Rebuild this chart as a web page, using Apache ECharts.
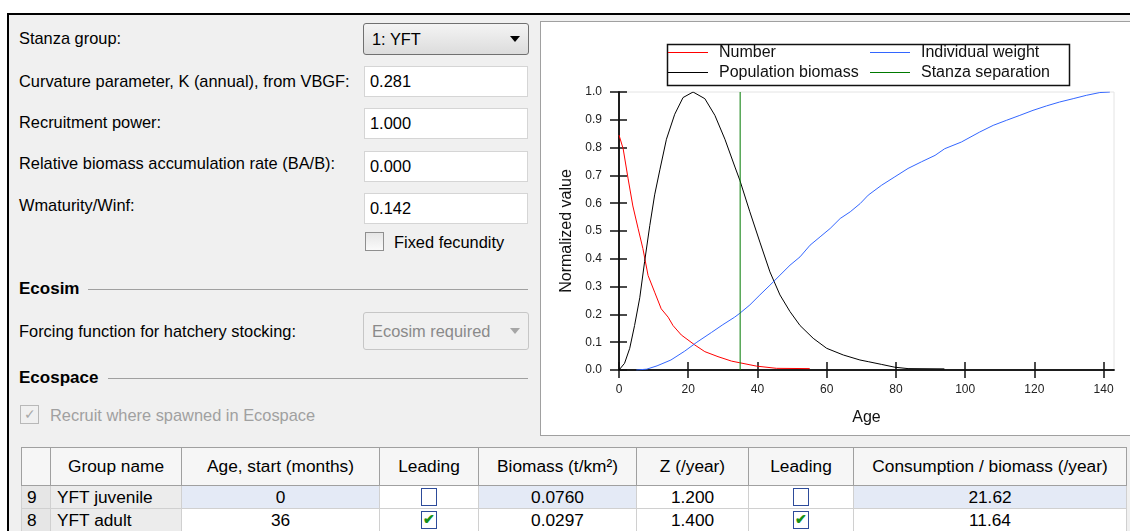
<!DOCTYPE html>
<html>
<head>
<meta charset="utf-8">
<script src="https://cdn.jsdelivr.net/npm/echarts@6/dist/echarts.min.js"></script>
<style>
  html,body{margin:0;padding:0;width:1130px;height:531px;overflow:hidden;background:#fff;
    font-family:"Liberation Sans",Arial,sans-serif;font-size:16.4px;color:#000;}
  .abs{position:absolute;}
  #panel{position:absolute;left:7px;top:13px;width:1123px;height:518px;background:#f0f0f0;
    border-left:2px solid #000;border-top:2px solid #000;box-sizing:border-box;}
  .lbl{position:absolute;left:19px;white-space:nowrap;line-height:20px;}
  .tb{position:absolute;left:364px;width:164px;height:31px;background:#fff;border:1px solid #d5d5d5;
    box-sizing:border-box;padding-left:5px;line-height:29px;}
  .dd{position:absolute;left:363px;width:166px;box-sizing:border-box;border-radius:3px;padding-left:8px;}
  .arrow{position:absolute;width:0;height:0;border-left:5px solid transparent;border-right:5px solid transparent;}
  .sec{position:absolute;height:1px;background:#a0a0a0;}
  .bold{font-weight:bold;font-size:17px;}
  table{position:absolute;left:21px;top:447px;border-collapse:collapse;table-layout:fixed;font-size:17.3px;}
  td,th{padding:0;font-weight:normal;white-space:nowrap;overflow:hidden;}
  th{height:37px;background:#f6f6f6;border:1px solid #a0a0a0;text-align:center;}
  td{height:22px;border:1px solid #d0d0d0;text-align:center;}
  td.rh{background:#e6e6e6;text-align:left;padding-left:5px;}
  td.gn{background:#ececec;text-align:left;padding-left:6px;}
  td.bl{background:#e4eaf6;}
  td.wh{background:#fff;}
  .cb{display:inline-block;width:16px;height:18px;border:1.5px solid #2d4b9a;background:#fff;
    vertical-align:middle;position:relative;box-sizing:border-box;margin-top:-2px;}
  .cb .ck{position:absolute;left:1px;top:-1px;color:#189018;font-size:14px;line-height:16px;font-weight:bold;}
</style>
</head>
<body>
<div id="panel"></div>

<!-- form -->
<div class="lbl" style="top:28px;">Stanza group:</div>
<div class="dd" style="top:23px;height:32px;border:1px solid #707070;background:linear-gradient(#f4f4f4,#dcdcdc);line-height:30px;">1: YFT</div>
<div class="arrow" style="left:510px;top:36px;border-top:6px solid #000;"></div>

<div class="lbl" style="top:71px;">Curvature parameter, K (annual), from VBGF:</div>
<div class="tb" style="top:66px;">0.281</div>
<div class="lbl" style="top:112px;">Recruitment power:</div>
<div class="tb" style="top:108px;">1.000</div>
<div class="lbl" style="top:153px;">Relative biomass accumulation rate (BA/B):</div>
<div class="tb" style="top:151px;">0.000</div>
<div class="lbl" style="top:195px;">Wmaturity/Winf:</div>
<div class="tb" style="top:193px;">0.142</div>

<div class="abs" style="left:365px;top:232px;width:19px;height:19px;border:1px solid #8f8f8f;box-sizing:border-box;background:linear-gradient(#e6e6e6,#fafafa);"></div>
<div class="abs" style="left:394px;top:232px;line-height:20px;">Fixed fecundity</div>

<div class="lbl bold" style="top:279px;">Ecosim</div>
<div class="sec" style="left:88px;top:289px;width:440px;"></div>
<div class="lbl" style="top:321px;">Forcing function for hatchery stocking:</div>
<div class="dd" style="top:312px;height:38px;border:1px solid #c6c6c6;background:#f0f0f0;line-height:36px;color:#8a8a8a;">Ecosim required</div>
<div class="arrow" style="left:510px;top:328px;border-top:6px solid #a6a6a6;"></div>

<div class="lbl bold" style="top:368px;">Ecospace</div>
<div class="sec" style="left:108px;top:378px;width:420px;"></div>
<div class="abs" style="left:20px;top:405px;width:19px;height:19px;border:1px solid #b8b8b8;box-sizing:border-box;color:#a8a8a8;font-size:14px;line-height:17px;text-align:center;">&#10003;</div>
<div class="abs" style="left:50px;top:405px;line-height:20px;color:#a0a0a0;">Recruit where spawned in Ecospace</div>

<!-- chart frame -->
<div class="abs" style="left:540px;top:21px;width:591px;height:415px;border:1px solid #a0a0a0;border-right:none;box-sizing:border-box;background:#fff;">
  <div id="chart" style="position:absolute;left:0;top:0;width:590px;height:413px;"></div>
</div>

<!-- table -->
<table>
  <colgroup>
    <col style="width:29px"><col style="width:131px"><col style="width:198px"><col style="width:99px">
    <col style="width:158px"><col style="width:112px"><col style="width:105px"><col style="width:273px">
  </colgroup>
  <tr><th></th><th>Group name</th><th>Age, start (months)</th><th>Leading</th><th>Biomass (t/km²)</th><th>Z (/year)</th><th>Leading</th><th>Consumption / biomass (/year)</th></tr>
  <tr><td class="rh">9</td><td class="gn">YFT juvenile</td><td class="bl">0</td><td class="wh"><span class="cb"></span></td><td class="bl">0.0760</td><td class="wh">1.200</td><td class="wh"><span class="cb"></span></td><td class="bl">21.62</td></tr>
  <tr><td class="rh">8</td><td class="gn">YFT adult</td><td class="wh">36</td><td class="wh"><span class="cb"><span class="ck">&#10004;</span></span></td><td class="wh">0.0297</td><td class="wh">1.400</td><td class="wh"><span class="cb"><span class="ck">&#10004;</span></span></td><td class="wh">11.64</td></tr>
</table>

<script>
// ---- data ----
const numberAge = [0, 1.2, 2.6, 4.0, 5.5, 6.9, 8.4, 10.3, 12.2, 14.2, 15.6, 18.0, 21.9, 24.8, 28.6, 32.5, 34.9, 39.7, 45.5, 55.1];
const numberVal = [0.845, 0.796, 0.69, 0.59, 0.51, 0.437, 0.34, 0.28, 0.22, 0.19, 0.16, 0.126, 0.09, 0.066, 0.048, 0.032, 0.026, 0.014, 0.006, 0.005];

const biomassAge = [0, 1.6, 3.1, 4.5, 6.0, 7.4, 8.9, 10.3, 11.8, 13.7, 16.1, 18.5, 21.4, 24.8, 27.7, 30.6, 33.5, 34.9, 37.8, 40.7, 43.6, 46.5, 49.4, 52.3, 56.1, 60.0, 64.8, 69.6, 72.0, 75.9, 79.7, 83.5, 94.0];
const biomassVal = [0, 0.024, 0.078, 0.16, 0.26, 0.39, 0.52, 0.63, 0.72, 0.83, 0.92, 0.98, 1.0, 0.976, 0.916, 0.83, 0.73, 0.683, 0.569, 0.46, 0.353, 0.27, 0.21, 0.16, 0.114, 0.078, 0.054, 0.036, 0.03, 0.02, 0.01, 0.005, 0.004];

const weightAge = [5, 8, 11, 15, 19, 22.5, 26.7, 30, 33.4, 34.9, 37.8, 40.7, 43.6, 46.5, 49.4, 52.3, 55.2, 58.1, 61.0, 63.9, 66.8, 69.7, 72.0, 75.9, 79.7, 83.5, 87.4, 91.3, 94.1, 98.9, 104.2, 108.1, 111.9, 115.8, 119.6, 123.5, 127.3, 131.2, 135.0, 138.9, 141.8];
const weightVal = [0, 0.003, 0.015, 0.036, 0.068, 0.10, 0.135, 0.163, 0.19, 0.204, 0.234, 0.27, 0.305, 0.341, 0.377, 0.407, 0.449, 0.479, 0.509, 0.545, 0.569, 0.599, 0.629, 0.665, 0.695, 0.725, 0.749, 0.772, 0.796, 0.82, 0.856, 0.88, 0.898, 0.916, 0.934, 0.95, 0.964, 0.976, 0.988, 0.998, 1.0];

const stanzaAge = [35, 35];
const stanzaVal = [0, 1];

const xTicks = [0, 20, 40, 60, 80, 100, 120, 140];
const seriesNames = ['Number', 'Population biomass', 'Individual weight', 'Stanza separation'];

const zip = (a, b) => a.map((v, i) => [v, b[i]]);

const chart = echarts.init(document.getElementById('chart'), null, {renderer: 'canvas'});
const font = '"Liberation Sans", Arial, sans-serif';
const axisColor = '#111';
const baseX = {
  type: 'value', min: 0, max: 143, interval: 20, gridIndex: 0, position: 'bottom',
  axisLine: {show: true, lineStyle: {color: axisColor, width: 1.5}},
  splitLine: {show: false}
};
const baseY = {
  type: 'value', min: 0, max: 1, interval: 0.1, gridIndex: 0, position: 'left',
  axisLine: {show: true, lineStyle: {color: axisColor, width: 1.5}},
  splitLine: {show: false}
};
const line = (name, x, y, color) => ({
  name, type: 'line', data: zip(x, y), symbol: 'none', smooth: false, animation: false,
  lineStyle: {color, width: 1}, itemStyle: {color}
});
const legendText = {fontFamily: font, fontSize: 16, color: '#111', lineHeight: 20, padding: [0, 0, 0, 6]};

chart.setOption({
  animation: false,
  grid: {left: 78, top: 70, width: 495, height: 278, show: true, borderColor: '#e4e4e4', borderWidth: 1, backgroundColor: 'transparent'},
  xAxis: [
    Object.assign({}, baseX, {
      name: 'Age', nameLocation: 'middle', nameGap: 40,
      nameTextStyle: {fontFamily: font, fontSize: 16, color: '#111'},
      axisTick: {show: true, inside: false, length: 8, lineStyle: {color: axisColor, width: 1.5}, customValues: xTicks},
      axisLabel: {show: true, margin: 14, fontFamily: font, fontSize: 12, color: '#222', customValues: xTicks}
    }),
    Object.assign({}, baseX, {
      axisTick: {show: true, inside: true, length: 8, lineStyle: {color: axisColor, width: 1.5}, customValues: xTicks},
      axisLabel: {show: false}
    })
  ],
  yAxis: [
    Object.assign({}, baseY, {
      name: 'Normalized value', nameLocation: 'middle', nameGap: 44, nameRotate: 90,
      nameTextStyle: {fontFamily: font, fontSize: 16, color: '#111'},
      axisTick: {show: true, inside: false, length: 9, lineStyle: {color: axisColor, width: 1.5}},
      axisLabel: {show: true, margin: 17, fontFamily: font, fontSize: 12, color: '#222', formatter: v => v.toFixed(1)}
    }),
    Object.assign({}, baseY, {
      axisTick: {show: true, inside: true, length: 8, lineStyle: {color: axisColor, width: 1.5}},
      axisLabel: {show: false}
    })
  ],
  legend: [
    {data: [seriesNames[0], seriesNames[1]], orient: 'vertical', left: 127, top: 20.5, padding: 0, itemGap: 0,
     icon: 'rect', itemWidth: 40, itemHeight: 1, selectedMode: false, textStyle: legendText},
    {data: [seriesNames[2], seriesNames[3]], orient: 'vertical', left: 329, top: 20.5, padding: 0, itemGap: 0,
     icon: 'rect', itemWidth: 40, itemHeight: 1, selectedMode: false, textStyle: legendText}
  ],
  graphic: [{
    type: 'rect', left: 124, top: 20, silent: true,
    shape: {width: 402, height: 41},
    style: {fill: 'none', stroke: '#111', lineWidth: 1.5}
  }],
  series: [
    line(seriesNames[0], numberAge, numberVal, '#ff0000'),
    line(seriesNames[1], biomassAge, biomassVal, '#000000'),
    line(seriesNames[2], weightAge, weightVal, '#3366ff'),
    line(seriesNames[3], stanzaAge, stanzaVal, '#007a00')
  ]
});
</script>
</body>
</html>
